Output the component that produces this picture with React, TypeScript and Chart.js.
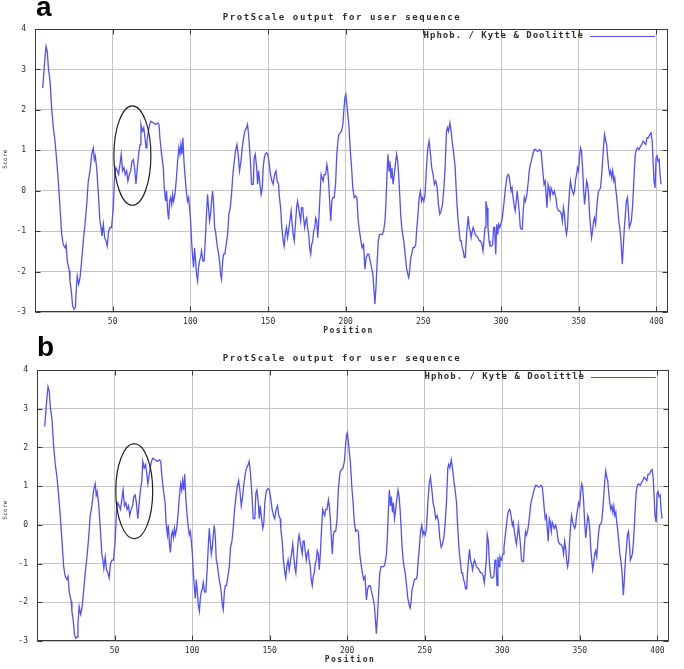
import React, { useEffect, useRef } from 'react';
import { Chart, registerables } from 'chart.js';

Chart.register(...registerables);

// ---------- DATA ----------
const positions: number[] = [
  5.0, 5.8, 7.1, 7.9, 8.6, 9.7, 10.7, 11.8, 12.9, 14.0,
  15.0, 16.1, 17.2, 18.2, 19.3, 20.0, 20.8, 22.1, 22.5, 23.4,
  24.2, 25.1, 26.0, 26.4, 27.2, 28.1, 29.0, 30.0, 31.1, 32.2,
  33.3, 34.3, 35.4, 36.5, 37.5, 38.2, 38.8, 39.7, 40.8, 41.8,
  42.5, 43.1, 44.0, 44.8, 45.7, 46.5, 47.4, 48.3, 49.3, 50.4,
  51.3, 52.1, 53.0, 53.8, 54.7, 55.5, 56.4, 57.3, 58.1, 59.0,
  59.8, 60.7, 61.6, 62.4, 63.3, 64.1, 65.0, 65.9, 66.7, 67.6,
  68.2, 69.1, 70.0, 70.8, 71.5, 72.1, 73.0, 73.8, 74.6, 76.1,
  77.6, 78.9, 79.8, 80.4, 81.5, 82.6, 83.2, 84.1, 84.7, 85.4,
  86.0, 86.7, 87.3, 88.0, 88.6, 89.2, 90.1, 90.9, 91.8, 92.6,
  93.3, 93.9, 94.6, 95.2, 95.9, 96.5, 97.4, 98.2, 98.9, 99.5,
  100.2, 100.8, 101.5, 102.1, 102.7, 103.4, 104.0, 104.7, 105.3, 105.9,
  106.6, 107.2, 108.1, 108.9, 109.8, 110.4, 111.1, 111.7, 112.4, 113.0,
  113.7, 114.3, 114.9, 115.6, 116.2, 116.9, 117.5, 118.2, 118.8, 119.5,
  120.1, 120.8, 121.4, 122.2, 123.1, 124.0, 124.8, 125.7, 126.5, 127.4,
  128.3, 129.1, 130.0, 130.8, 131.7, 132.6, 133.4, 134.3, 135.1,
  136.2, 136.8, 137.5, 138.1, 138.8, 139.4, 140.5, 141.1, 141.8, 142.7,
  143.3, 143.9, 144.8, 145.6, 146.3, 146.9, 147.6, 148.2, 149.1, 149.9,
  150.8, 151.6, 152.5, 153.3, 154.2, 155.1, 155.9, 156.8, 157.2, 158.1,
  158.9, 159.8, 160.4, 161.1, 161.9, 162.6, 163.2, 164.1, 164.9, 165.6,
  166.2, 166.9, 167.5, 168.4, 169.0, 169.7, 170.3, 171.0, 171.6, 172.3,
  172.9, 173.6, 174.2, 174.9, 175.5, 176.2, 176.8, 177.5, 178.1, 178.8,
  179.4, 180.1, 180.7, 181.4, 182.0, 182.7, 183.5, 184.2, 184.8, 185.5,
  186.1, 187.0, 187.9, 188.5, 189.1, 189.8, 190.4, 191.1, 191.7, 192.6,
  193.5, 194.3, 195.0, 195.6, 196.5, 197.3, 198.2, 198.8, 199.5, 200.1,
  200.8, 201.4, 202.1,
  203.0, 203.8, 204.6, 205.5, 206.3, 207.2, 208.1, 208.9, 209.8, 210.6,
  211.5, 212.4, 213.2, 214.1, 214.9, 215.8, 216.7, 217.5, 218.4, 218.8,
  219.5, 220.1, 221.0, 221.8, 222.7, 223.6, 224.4, 225.3, 225.9, 226.6,
  227.2, 227.9, 228.5, 229.2, 229.8, 230.5, 231.3, 232.2, 232.8, 233.5,
  234.1, 234.8, 235.4, 236.1, 236.7, 237.4, 238.3, 239.1, 240.0, 240.6,
  241.2, 241.9, 242.5, 243.4, 244.3, 245.1, 245.8, 246.4, 247.3, 248.1,
  248.8, 249.4, 250.3, 251.1, 252.0, 252.9, 253.7, 254.6, 255.4, 256.3,
  257.1, 258.0, 258.9, 259.7, 260.6, 261.4, 262.3, 263.1, 264.0, 264.9,
  265.5, 266.2, 267.1, 267.9, 268.8, 269.6, 270.5,
  271.1, 271.8, 272.4, 273.1, 273.7, 274.4, 275.0, 275.7, 276.3, 277.0,
  277.6, 278.2, 278.9, 279.5, 280.2, 280.8, 281.5, 282.1, 282.8, 283.4,
  284.3, 285.1, 286.0, 286.8, 287.7, 288.4, 289.0, 289.7, 290.3, 291.0,
  291.6, 292.3, 292.9, 293.8, 294.6, 295.3, 295.9, 296.6, 297.2, 297.9,
  298.5, 299.2, 299.8, 300.5, 301.1, 302.0, 302.9, 303.7, 304.6, 305.2,
  305.9, 306.5, 307.1, 307.8, 308.4, 309.1, 309.8, 310.4, 311.1, 311.7,
  312.4, 313.0, 313.7, 314.3, 315.0, 315.6, 316.3, 316.9, 317.6, 318.2,
  318.9, 319.5, 320.2, 320.8, 321.5, 322.3, 323.2, 324.1, 324.9, 325.8,
  326.4, 327.1, 327.7, 328.4, 329.0, 329.6, 330.3, 330.9, 331.6, 332.2,
  332.9, 333.5, 334.4, 335.3, 336.1, 337.0, 337.8,
  338.9, 339.5, 340.2, 340.8, 341.5, 342.1, 342.8, 343.4, 344.1, 344.7,
  345.4, 346.0, 346.7, 347.3, 347.9, 348.6, 349.2, 349.9, 350.5, 351.2,
  351.8, 352.5, 353.1, 353.8, 354.4, 355.1, 355.7, 356.4, 357.0, 357.7,
  358.3, 358.9, 359.6, 360.2, 360.9, 361.5, 362.2, 362.8, 363.5, 364.1,
  364.8, 365.4, 366.1, 366.7, 367.4, 368.0, 368.7, 369.3, 370.0, 370.6,
  371.3, 371.9, 372.6, 373.2, 373.8, 374.5, 375.1, 375.8, 376.4, 377.1,
  377.7, 378.1, 378.8, 379.4, 380.1, 380.7, 381.4, 382.0, 382.6, 383.3,
  383.9, 384.6, 385.2, 385.9, 386.5, 387.2, 388.0, 388.9, 389.8, 390.6,
  391.5, 392.3, 393.2, 394.0, 394.9, 395.8, 396.6, 397.3, 397.9, 398.5,
  399.2, 399.8, 400.5, 401.1, 401.8, 402.4, 403.0,
];

const scores: number[] = [
  2.54, 3.00, 3.57, 3.45, 3.04, 2.71, 2.05, 1.56, 1.23, 0.73,
  0.24, -0.42, -1.08, -1.33, -1.41, -1.33, -1.74, -1.98, -2.23, -2.48,
  -2.85, -2.93, -2.89, -2.56, -2.11, -2.31, -2.15, -1.74, -1.24, -0.83,
  -0.34, 0.24, 0.49, 0.90, 1.06, 0.77, 0.86, 0.57, -0.09, -0.75,
  -0.91, -1.12, -0.83, -1.16, -1.24, -1.37, -1.00, -0.91, -0.91, -0.42,
  0.40, 0.57, 0.49, 0.40, 0.65, 0.90, 0.49, 0.57, 0.40, 0.49,
  0.24, 0.40, 0.49, 0.73, 0.77, 0.57, 0.16, 0.57, 0.90, 1.14,
  1.64, 1.47, 1.56, 1.31, 1.06, 1.23, 1.47, 1.64, 1.72, 1.68,
  1.64, 1.68, 1.64, 1.31, 0.90, 0.57, 0.07, -0.26, -0.01, -0.50,
  -0.71, -0.26, -0.17, -0.34, -0.09, -0.26, -0.09, 0.24, 0.73, 1.06,
  0.90, 1.14, 0.90, 1.31, 0.73, 0.40, -0.01, -0.26, -0.17, -0.42,
  -0.75, -1.24, -1.65, -1.90, -1.41, -1.74, -2.07, -2.23, -1.90, -1.74,
  -1.65, -1.49, -1.74, -1.74, -1.08, -0.58, -0.09, -0.42, -0.75, -0.58,
  -0.26, -0.01, -0.26, -0.91, -1.00, -1.24, -1.41, -1.57, -1.74, -2.07,
  -2.19, -1.74, -1.57, -1.57, -1.33, -1.08, -0.58, -0.42, -0.09, 0.40,
  0.73, 0.98, 1.14, 0.90, 0.49, 0.73, 1.06, 1.31, 1.47,
  1.56, 1.64, 1.39, 1.06, 0.65, 0.16, 0.16, 0.81, 0.90, 0.57,
  0.16, 0.49, 0.16, -0.09, 0.07, 0.57, 0.81, 0.90, 0.94, 0.90,
  0.65, 0.40, 0.24, 0.16, 0.40, 0.49, 0.24, 0.16, -0.09, -0.42,
  -0.91, -1.24, -1.37, -1.08, -0.91, -1.16, -1.00, -0.75, -0.50, -0.83,
  -1.08, -1.24, -0.91, -0.42, -0.26, -0.42, -0.58, -0.75, -0.42, -0.42,
  -0.67, -0.91, -0.75, -0.67, -0.91, -1.08, -1.41, -1.57, -1.33, -1.24,
  -1.00, -0.91, -0.67, -0.75, -1.16, -0.75, -0.09, 0.40, 0.32, 0.24,
  0.40, 0.40, 0.65, 0.49, 0.16, -0.34, -0.75, -0.26, -0.17, -0.17,
  0.16, 0.90, 1.23, 1.39, 1.43, 1.47, 1.64, 1.97, 2.30, 2.38,
  2.13, 1.88, 1.60,
  0.98, 0.57, 0.07, -0.17, -0.13, -0.17, -0.75, -1.00, -1.24, -1.41,
  -1.33, -1.94, -1.65, -1.57, -1.57, -1.74, -1.90, -2.07, -2.56, -2.81,
  -2.40, -1.90, -1.24, -1.08, -1.08, -1.08, -1.00, -0.75, -0.34, 0.40,
  0.90, 0.49, 0.73, 0.32, 0.57, 0.16, 0.40, 0.73, 0.90, 0.73,
  0.40, -0.09, -0.58, -0.91, -1.08, -1.24, -1.57, -1.90, -2.07, -2.15,
  -1.98, -1.65, -1.57, -1.41, -1.41, -1.33, -0.91, -0.67, -0.17, -0.01,
  -0.26, -0.17, -0.26, -0.09, 0.57, 1.06, 1.23, 0.90, 0.57, 0.40,
  0.16, 0.24, 0.07, -0.34, -0.58, -0.50, -0.34, -0.01, 0.57, 1.47,
  1.56, 1.47, 1.68, 1.47, 1.14, 0.90, 0.57,
  0.07, -0.42, -0.75, -1.00, -1.24, -1.24, -1.41, -1.49, -1.65, -1.65,
  -1.24, -0.91, -0.63, -0.91, -1.00, -1.16, -1.00, -0.91, -1.00, -1.08,
  -1.12, -1.16, -1.24, -1.24, -1.33, -1.49, -1.24, -0.91, -0.26, -0.42,
  -0.91, -1.24, -1.37, -1.37, -1.33, -0.91, -0.91, -1.57, -0.83, -1.08,
  -0.83, -0.91, -0.83, -0.75, -0.58, -0.26, 0.07, 0.32, 0.40, 0.36,
  0.16, -0.01, 0.07, -0.17, -0.34, -0.50, -0.26, -0.01, -0.26, -0.50,
  -0.91, -0.95, -0.95, -0.50, -0.17, -0.26, -0.17, -0.01, 0.24, 0.49,
  0.65, 0.73, 0.86, 0.94, 1.02, 1.02, 0.98, 0.98, 1.02, 0.98,
  0.73, 0.40, 0.16, 0.24, -0.09, -0.42, 0.16, 0.07, -0.17, 0.07,
  -0.01, -0.09, -0.01, -0.17, -0.42, -0.50, -0.50,
  -0.58, -0.75, -0.42, -0.58, -0.91, -1.08, -0.91, -0.42, -0.01, 0.24,
  0.07, -0.01, -0.09, -0.01, 0.24, 0.40, 0.57, 0.49, 0.81, 1.06,
  0.98, 0.57, 0.07, -0.34, -0.09, 0.24, 0.16, -0.09, -0.58, -0.91,
  -1.16, -1.00, -0.75, -0.67, -0.83, -0.50, -0.17, -0.01, 0.03, 0.07,
  0.40, 0.73, 1.14, 1.39, 1.23, 1.14, 0.81, 0.57, 0.40, 0.49,
  0.32, 0.49, 0.24, 0.32, 0.07, -0.17, -0.42, -0.75, -0.91, -1.16,
  -1.57, -1.82, -1.33, -0.91, -0.58, -0.26, -0.17, -0.50, -0.91, -0.83,
  -0.75, -0.42, -0.01, 0.57, 0.90, 1.02, 1.06, 1.02, 1.10, 1.14,
  1.23, 1.19, 1.14, 1.31, 1.31, 1.39, 1.43, 1.23, 0.73, 0.24,
  0.07, 0.81, 0.86, 0.73, 0.77, 0.40, 0.16,
];

const xTicks: number[] = [50, 100, 150, 200, 250, 300, 350, 400];
const yTicks: number[] = [-3, -2, -1, 0, 1, 2, 3, 4];
const xRange: number[] = [0, 407.5];
const yRange: number[] = [-3, 4];

const chartTitle = 'ProtScale output for user sequence';
const legendLabel = 'Hphob. / Kyte & Doolittle';
const xTitle = 'Position';
const yTitle = 'Score';
const panelLetters: string[] = ['a', 'b'];

// highlighted region (circled in the reference), in data units
const ellipseCenter: number[] = [62.7, 0.87];
const ellipseRadius: number[] = [11.9, 1.23];

// ---------- STYLE / LAYOUT ----------
const W = 684;
const MONO = '"DejaVu Sans Mono", monospace';
const LINE = 'rgb(80,80,252)';
const GRID = '#c4c4c4';
const FRAME = '#3a3a3a';
const TEXT = '#2e2e2e';

type Panel = {
  top: number;
  height: number;
  plotLeft: number;
  plotTop: number;
  plotRight: number;
  plotBottom: number;
  titleY: number;
  yTitleY: number;
  letterTop: number;
  letterLeft: number;
};

const PANELS: Panel[] = [
  { top: 0, height: 340, plotLeft: 35, plotTop: 29, plotRight: 668, plotBottom: 312, titleY: 18, yTitleY: 159, letterTop: -7, letterLeft: 36 },
  { top: 340, height: 329, plotLeft: 37, plotTop: 30, plotRight: 669, plotBottom: 301, titleY: 19, yTitleY: 170, letterTop: -7, letterLeft: 37 },
];

function makeDecor(p: Panel) {
  return {
    id: 'decor',
    afterDraw(chart: any) {
      const { ctx, chartArea: a, scales } = chart;
      const L = Math.round(a.left) + 0.5;
      const R = Math.round(a.right) - 0.5;
      const T = Math.round(a.top) + 0.5;
      const B = Math.round(a.bottom) - 0.5;
      ctx.save();
      // frame
      ctx.strokeStyle = FRAME;
      ctx.lineWidth = 1;
      ctx.strokeRect(L, T, R - L, B - T);
      // inward tick marks on all four sides
      ctx.beginPath();
      for (const v of xTicks) {
        const x = Math.round(scales.x.getPixelForValue(v)) + 0.5;
        ctx.moveTo(x, B); ctx.lineTo(x, B - 5);
        ctx.moveTo(x, T); ctx.lineTo(x, T + 5);
      }
      for (const v of yTicks) {
        const y = Math.round(scales.y.getPixelForValue(v)) + 0.5;
        ctx.moveTo(L, y); ctx.lineTo(L + 5, y);
        ctx.moveTo(R, y); ctx.lineTo(R - 5, y);
      }
      ctx.stroke();

      // highlight ellipse
      const cx = scales.x.getPixelForValue(ellipseCenter[0]);
      const cy = scales.y.getPixelForValue(ellipseCenter[1]);
      const rx = Math.abs(scales.x.getPixelForValue(ellipseCenter[0] + ellipseRadius[0]) - cx);
      const ry = Math.abs(scales.y.getPixelForValue(ellipseCenter[1] + ellipseRadius[1]) - cy);
      ctx.beginPath();
      ctx.ellipse(cx, cy, rx, ry, 0, 0, Math.PI * 2);
      ctx.strokeStyle = '#202020';
      ctx.lineWidth = 1.2;
      ctx.stroke();

      // title
      ctx.fillStyle = TEXT;
      ctx.textBaseline = 'middle';
      ctx.font = `bold 9px ${MONO}`;
      (ctx as any).letterSpacing = '1.6px';
      ctx.textAlign = 'center';
      ctx.fillText(chartTitle, W / 2, p.titleY);

      // legend (inside, top right)
      (ctx as any).letterSpacing = '1.0px';
      ctx.textAlign = 'right';
      ctx.fillText(legendLabel, a.right - 84, a.top + 7);
      ctx.beginPath();
      ctx.moveTo(a.right - 78, Math.round(a.top + 7) + 0.5);
      ctx.lineTo(a.right - 13, Math.round(a.top + 7) + 0.5);
      ctx.strokeStyle = LINE;
      ctx.lineWidth = 1;
      ctx.stroke();

      // x axis title
      (ctx as any).letterSpacing = '1.5px';
      ctx.textAlign = 'center';
      ctx.font = `bold 8px ${MONO}`;
      ctx.fillText(xTitle, (a.left + a.right) / 2 - 3, a.bottom + 19);

      // y axis title (rotated)
      (ctx as any).letterSpacing = '0.3px';
      ctx.translate(5, p.yTitleY);
      ctx.rotate(-Math.PI / 2);
      ctx.font = `6px ${MONO}`;
      ctx.fillText(yTitle, 0, 0);
      ctx.restore();
      (ctx as any).letterSpacing = '0px';
    },
  };
}

function ProtPanel({ p }: { p: Panel }) {
  const ref = useRef<HTMLCanvasElement | null>(null);
  useEffect(() => {
    if (!ref.current) return;
    const chart = new Chart(ref.current, {
      type: 'line',
      data: {
        datasets: [
          {
            label: legendLabel,
            data: positions.map((x, i) => ({ x, y: scores[i] })),
            borderColor: LINE,
            borderWidth: 1.3,
            pointRadius: 0,
            tension: 0,
            fill: false,
          },
        ],
      },
      options: {
        animation: false,
        responsive: false,
        maintainAspectRatio: false,
        devicePixelRatio: 1,
        layout: { padding: { left: 0, top: p.plotTop, right: W - p.plotRight, bottom: 0 } },
        plugins: {
          legend: { display: false },
          tooltip: { enabled: false },
          title: { display: false },
        },
        scales: {
          x: {
            type: 'linear',
            min: xRange[0],
            max: xRange[1],
            afterBuildTicks: (s: any) => { s.ticks = xTicks.map((v) => ({ value: v })); },
            afterFit: (s: any) => { s.height = p.height - p.plotBottom; },
            grid: { color: GRID, lineWidth: 1, drawTicks: false },
            border: { display: false },
            ticks: {
              padding: 5,
              autoSkip: false,
              maxRotation: 0,
              color: TEXT,
              font: { family: MONO, size: 8 },
            },
          },
          y: {
            type: 'linear',
            min: yRange[0],
            max: yRange[1],
            afterBuildTicks: (s: any) => { s.ticks = yTicks.map((v) => ({ value: v })); },
            afterFit: (s: any) => { s.width = p.plotLeft; },
            grid: { color: GRID, lineWidth: 1, drawTicks: false },
            border: { display: false },
            ticks: {
              padding: 9,
              color: TEXT,
              font: { family: MONO, size: 8 },
            },
          },
        },
      } as any,
      plugins: [makeDecor(p)],
    });
    return () => chart.destroy();
  }, [p]);
  return (
    <canvas
      ref={ref}
      width={W}
      height={p.height}
      style={{ position: 'absolute', left: 0, top: p.top, width: W, height: p.height }}
    />
  );
}

export default function App() {
  return (
    <div style={{ position: 'fixed', left: 0, top: 0, width: W, height: 669, background: '#fff', overflow: 'hidden' }}>
      {PANELS.map((p, i) => (
        <React.Fragment key={i}>
          <ProtPanel p={p} />
          <div
            style={{
              position: 'absolute',
              left: p.letterLeft,
              top: p.top + p.letterTop,
              font: 'bold 28px "Liberation Sans", Arial, sans-serif',
              lineHeight: '28px',
              color: '#000',
            }}
          >
            {panelLetters[i]}
          </div>
        </React.Fragment>
      ))}
    </div>
  );
}
